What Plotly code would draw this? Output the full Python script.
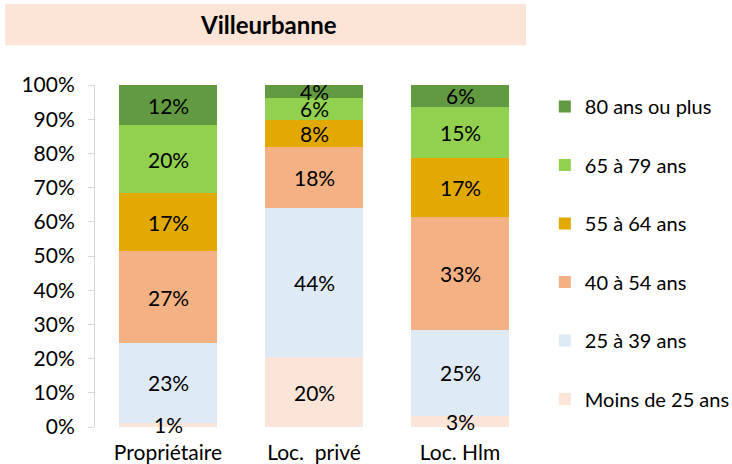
import plotly.graph_objects as go

categories = ["Propriétaire", "Loc.  privé", "Loc. Hlm"]
series_names = ["Moins de 25 ans", "25 à 39 ans", "40 à 54 ans", "55 à 64 ans", "65 à 79 ans", "80 ans ou plus"]
moins25 = [1.2, 20.4, 3.3]
a25_39 = [23.4, 43.6, 25.1]
a40_54 = [26.8, 17.9, 33.0]
a55_64 = [17.0, 7.9, 17.3]
a65_79 = [19.9, 6.4, 14.9]
a80plus = [11.7, 3.8, 6.4]
labels = {
    "Moins de 25 ans": ["1%", "20%", "3%"],
    "25 à 39 ans": ["23%", "44%", "25%"],
    "40 à 54 ans": ["27%", "18%", "33%"],
    "55 à 64 ans": ["17%", "8%", "17%"],
    "65 à 79 ans": ["20%", "6%", "15%"],
    "80 ans ou plus": ["12%", "4%", "6%"],
}
yticks = [0, 10, 20, 30, 40, 50, 60, 70, 80, 90, 100]
ytick_text = [f"{v}%" for v in yticks]
title_text = "Villeurbanne"

values = [moins25, a25_39, a40_54, a55_64, a65_79, a80plus]
colors = ["#FBE5D9", "#DEEAF6", "#F4B183", "#E2A900", "#92D050", "#629A41"]
FS = 21

fig = go.Figure()
n = len(series_names)
for i, (name, vals, col) in enumerate(zip(series_names, values, colors)):
    fig.add_trace(go.Bar(
        x=categories, y=vals, name=name, marker=dict(color=col, line=dict(width=0)),
        legendgroup=name, legendrank=n - i, hoverinfo="skip",
    ))

annotations = [dict(text=f"<b>{title_text}</b>", xref="paper", yref="paper",
                    x=0.395, y=1.177, xanchor="center", yanchor="middle",
                    showarrow=False, font=dict(size=24, family="Lato", color="#000000"))]

# value labels on top of all bars, centred in their segments
base = [0.0] * len(categories)
for name, vals in zip(series_names, values):
    for cat, b, v, t in zip(categories, base, vals, labels[name]):
        annotations.append(dict(
            x=cat, y=b + v / 2, xref="x", yref="y", text=t, showarrow=False,
            xanchor="center", yanchor="middle", yshift=0,
            font=dict(size=FS, color="#000000", family="Lato"),
        ))
    base = [b + v for b, v in zip(base, vals)]

fig.update_layout(
    barmode="stack",
    bargap=0.335,
    width=732, height=464,
    margin=dict(l=95, r=199, t=85, b=37, autoexpand=False),
    paper_bgcolor="white", plot_bgcolor="white",
    font=dict(family="Lato", size=FS, color="#000000"),
    legend=dict(
        x=1.027, xanchor="left", y=0.994, yanchor="top",
        traceorder="grouped", tracegroupgap=29.5,
        font=dict(size=20, family="Lato", color="#000000"),
        itemwidth=30,
    ),
    shapes=[dict(type="rect", xref="paper", yref="paper",
                 x0=-0.205, x1=0.984, y0=1.116, y1=1.237,
                 fillcolor="#FCE4D6", line=dict(width=0), layer="below")],
    annotations=annotations,
)
fig.update_yaxes(
    range=[0, 100], tickvals=yticks, ticktext=ytick_text, automargin=False,
    showgrid=False, zeroline=False, showline=True, linecolor="#D9D9D9", linewidth=1,
    ticks="outside", ticklen=6, tickcolor="#D9D9D9", ticklabelstandoff=9,
    tickfont=dict(size=FS, family="Lato", color="#000000"),
)
fig.update_xaxes(
    showgrid=False, zeroline=False, showline=False, automargin=False,
    ticks="outside", ticklen=7, tickcolor="rgba(0,0,0,0)",
    tickfont=dict(size=FS, family="Lato", color="#000000"),
)
fig.write_html("out.html", config={"displayModeBar": False},
               post_script="document.body.style.margin='0';")
